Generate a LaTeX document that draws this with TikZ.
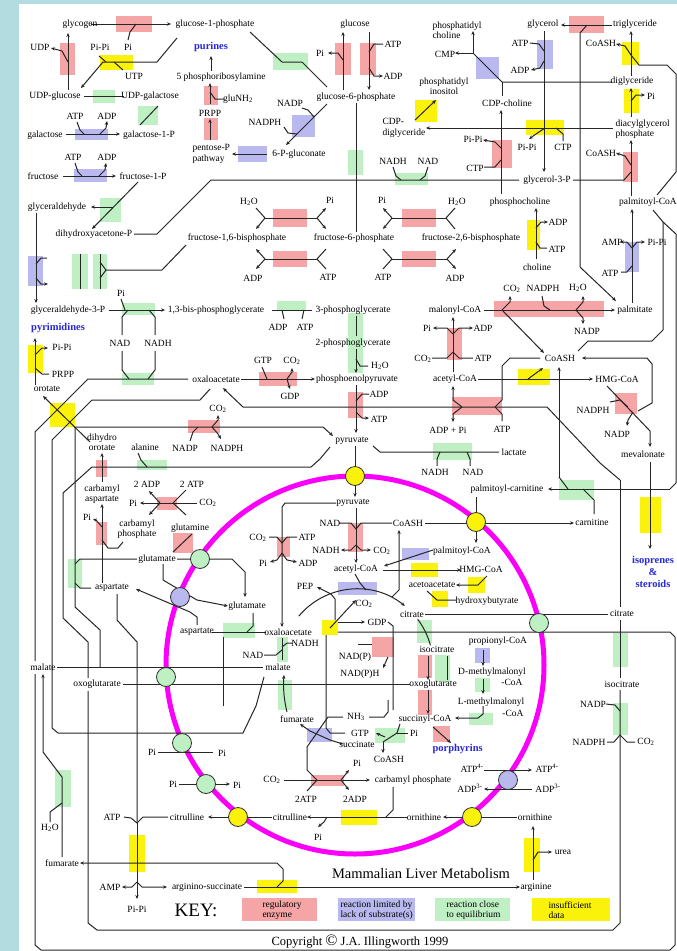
\documentclass[tikz,border=0pt]{standalone}
\usepackage{fontspec}
\setmainfont{Liberation Serif}
\usetikzlibrary{arrows.meta}
\definecolor{bgc}{RGB}{178,220,224}
\definecolor{rbx}{RGB}{245,165,165}
\definecolor{bbx}{RGB}{185,185,240}
\definecolor{gbx}{RGB}{190,240,195}
\definecolor{ybx}{RGB}{250,242,10}
\definecolor{mag}{RGB}{250,0,250}
\definecolor{btx}{RGB}{40,40,215}
\newcommand\mylbl[3]{\node[t] (#1) at (#2) {#3};}
\begin{document}
\begin{tikzpicture}[x=1pt,y=-1pt,
  t/.style={inner sep=0.3pt,font=\fontsize{9.5}{10.5}\selectfont},
  bt/.style={inner sep=0.3pt,font=\fontsize{10.5}{12}\selectfont\bfseries,text=btx,align=center},
  ln/.style={line width=1pt,black!85},
  ar/.style={ln,-{Stealth[length=4pt,width=3.4pt]}},
  rb/.style={fill=rbx},bb/.style={fill=bbx},gb/.style={fill=gbx},yb/.style={fill=ybx},
  circ/.style={circle,draw=black!80,line width=0.8pt,minimum size=19pt,inner sep=0pt}]
\useasboundingbox (0,0) rectangle (677,951);
\fill[bgc] (0,0) rectangle (677,951);
\fill[white] (19,4) rectangle (677,951);
% ---------- red boxes
\foreach \a/\b/\c/\d in {116/16/152/32,60/43/75/75,204/118/218/140,204/86/218/105,335/43/351/75,360/43/376/75,569/16/604/33,492/140/512/168,623/152/638/182,273/209/307/227,273/251/307/267,402/209/436/227,402/251/436/267,494/301/604/317,447/328/462/360,259/372/297/386,348/392/363/418,452/397/502/415,615/393/637/414,188/420/220/433,96/460/107/477,96/522/107/545,157/497/177/510,173/533/193/553,277/537/290/557,348/523/363/552,372/637/394/657,418/655/432/678,418/690/432/715,433/726/450/742,311/775/344/786}
  \fill[rb] (\a,\b) rectangle (\c,\d);
% ---------- blue boxes
\foreach \a/\b/\c/\d in {75/129/108/140,74/169/107/182,292/115/315/137,238/146/267/162,476/57/499/79,537/40/553/69,625/242/639/272,28/256/43/286,338/582/377/595,402/548/429/560,475/648/490/663,307/728/332/742}
  \fill[bb] (\a,\b) rectangle (\c,\d);
% ---------- green boxes
\foreach \a/\b/\c/\d in {93/90/115/103,138/106/158/125,100/198/121/222,273/53/308/70,348/150/363/175,395/173/428/185,72/254/88/289,93/254/107/289,122/303/155/315,277/301/306/311,348/313/363/373,122/373/154/385,137/460/167/470,559/480/594/500,68/559/82/588,223/623/255/638,277/637/288/662,278/680/292/710,417/620/432/643,435/655/450/682,475/678/490/692,469/713/493/725,375/728/405/743,613/633/628/667,613/703/628/735,55/770/71/807,433/443/472/460}
  \fill[gb] (\a,\b) rectangle (\c,\d);
% ---------- yellow boxes
\foreach \a/\b/\c/\d in {100/55/133/70,415/100/437/122,526/120/564/135,622/42/639/65,624/89/639/113,527/220/540/250,28/345/43/373,50/403/75/427,518/369/550/385,640/497/661/533,411/563/438/577,468/577/485/593,432/591/448/607,322/620/338/635,341/810/377/825,129/835/145/872,257/880/297/893,524/838/540/872}
  \fill[yb] (\a,\b) rectangle (\c,\d);
% ---------- key boxes
\fill[rb] (242,898) rectangle (317,921);
\fill[bb] (338,898) rectangle (415,921);
\fill[gb] (435,898) rectangle (510,921);
\fill[yb] (532,898) rectangle (610,921);
% ---------- mitochondrion
\draw[mag,line width=5pt] (355,665) circle (189);
% ================= LINES =================
% glycogen
\draw[ar] (91,24)--(171,24); \draw[ln] (128,40)--(130,32)--(136,24);
\draw[ar] (68,90)--(68,33); \draw[ar] (68,62)--(62,51)--(51,48);
\draw[ar] (177,38)--(157,62)--(103,62)--(81,88); \draw[ln] (106,62)--(99,56); \draw[ln] (114,62)--(123,70);
\draw[ln] (84,96)--(124,96); \draw[ln] (140,125)--(158,106);
\draw[ar] (66,134)--(120,134); \draw[ln] (77,122)--(80,130)--(84,134); \draw[ar] (100,134)--(106,128)--(107,121);
\draw[ar] (63,176)--(116,176); \draw[ln] (75,163)--(78,172)--(82,176); \draw[ar] (99,176)--(105,170)--(106,163);
\draw[ar] (138,182)--(92,229); \draw[ar] (113,207)--(91,207);
\draw[ar] (36,213)--(36,303); \draw[ln] (36,264)--(41,258)--(47,258); \draw[ar] (36,278)--(41,284)--(48,284);
\draw[ln] (80,254)--(80,289); \draw[ln] (100,254)--(100,289); \draw[ln] (100,262)--(106,270)--(100,278);
\draw[ln] (106,270)--(162,270)--(186,245);
\draw[ln] (134,234)--(157,234)--(211,180)--(519,180);
\draw[ln] (393,167)--(396,176)--(401,180); \draw[ln] (428,167)--(425,176)--(420,180);
\draw[ln] (356,103)--(356,232);
\draw[ln] (250,32)--(282,62)--(302,62)--(327,87);
\draw[ar] (343,90)--(343,32); \draw[ar] (343,60)--(338,53)--(328,53);
\draw[ar] (369,32)--(369,90); \draw[ln] (383,44)--(374,44)--(369,52); \draw[ar] (369,68)--(374,76)--(383,76);
\draw[ar] (327,104)--(286,145); \draw[ln] (302,108)--(308,110)--(314,117); \draw[ln] (284,127)--(288,133)--(297,134);
\draw[ar] (267,154)--(232,154);
\draw[ar] (210,140)--(210,119); \draw[ar] (210,104)--(210,83); \draw[ln] (210,92)--(215,99)--(224,99);
\draw[ar] (211,71)--(211,56);
% phospholipids
\draw[ar] (473,53)--(473,31); \draw[ar] (473,53)--(455,53); \draw[ln] (473,53)--(502,82)--(612,82); \draw[ln] (502,82)--(502,96);
\draw[ar] (501,194)--(501,110); \draw[ar] (501,148)--(495,142)--(483,140); \draw[ln] (501,160)--(495,167)--(484,167);
\draw[ar] (536,259)--(536,208); \draw[ar] (536,228)--(541,222)--(548,222); \draw[ln] (536,242)--(540,248)--(547,248);
\draw[ar] (612,25)--(561,25); \draw[ar] (587,25)--(580,33)--(580,267)--(616,301);
\draw[ar] (544,31)--(544,172); \draw[ln] (530,43)--(539,44)--(544,51); \draw[ar] (544,61)--(540,68)--(531,70);
\draw[ar] (613,128)--(426,128); \draw[ar] (545,128)--(536,134)--(529,139); \draw[ln] (556,128)--(563,134)--(563,141);
\draw[ar] (415,120)--(436,100);
\draw[ar] (631,76)--(631,31); \draw[ar] (631,55)--(625,46)--(616,44); \draw[ln] (631,55)--(639,65)--(667,65)--(676,74)--(676,172)--(657,195);
\draw[ar] (631,117)--(631,88); \draw[ar] (631,101)--(636,95)--(645,95);
\draw[ar] (631,196)--(631,140); \draw[ln] (573,180)--(624,180)--(631,172); \draw[ar] (631,165)--(625,156)--(616,153);
\draw[ar] (632,303)--(632,209); \draw[ar] (632,248)--(627,242)--(620,242); \draw[ar] (632,248)--(637,242)--(645,242); \draw[ln] (632,266)--(627,272)--(621,272);
\draw[ln] (653,210)--(663,222)--(663,330)--(652,341)--(588,341)--(578,351);
\draw[ln] (663,222)--(676,234)--(676,483)--(670,489);
% glycolysis
\draw[ln] (265,218)--(317,218); \draw[ln] (256,208)--(265,218); \draw[ar] (265,218)--(256,229); \draw[ar] (317,218)--(326,208); \draw[ar] (317,218)--(326,229);
\draw[ln] (265,259)--(317,259); \draw[ar] (265,259)--(256,249); \draw[ar] (265,259)--(256,269); \draw[ln] (317,259)--(326,249); \draw[ln] (317,259)--(326,269);
\draw[ln] (392,218)--(446,218); \draw[ar] (392,218)--(383,208); \draw[ar] (392,218)--(383,229); \draw[ln] (446,218)--(455,208); \draw[ln] (446,218)--(455,229);
\draw[ln] (392,259)--(447,259); \draw[ln] (392,259)--(383,249); \draw[ln] (392,259)--(383,269); \draw[ar] (447,259)--(456,249); \draw[ar] (447,259)--(456,269);
\draw[ar] (109,310)--(165,310); \draw[ln] (121,299)--(125,310);
\draw[ln] (128,310)--(122,317)--(122,335); \draw[ln] (149,310)--(155,317)--(155,335);
\draw[ln] (122,351)--(122,370)--(129,379); \draw[ln] (155,351)--(155,370)--(148,379);
\draw[ln] (272,310)--(312,310); \draw[ln] (282,310)--(284,319); \draw[ln] (304,310)--(302,319);
\draw[ln] (356,316)--(356,336); \draw[ar] (356,349)--(356,373); \draw[ln] (356,359)--(360,366)--(368,366);
\draw[ar] (241,379)--(315,379); \draw[ln] (262,367)--(267,379); \draw[ar] (287,379)--(292,372)--(292,368); \draw[ar] (287,379)--(290,389);
\draw[ar] (356,385)--(356,433); \draw[ln] (356,401)--(362,394)--(369,394); \draw[ar] (356,412)--(362,418)--(369,418);
% citrate lyase, ACC, FAS
\draw[ar] (620,480)--(600,463)--(547,407)--(243,407)--(223,388);
\draw[ar] (462,407)--(453,400)--(453,386); \draw[ar] (462,407)--(453,414)--(453,422);
\draw[ln] (495,407)--(502,400)--(502,366)--(510,358)--(540,358); \draw[ln] (495,407)--(502,414)--(502,421);
\draw[ar] (453,372)--(453,317); \draw[ar] (453,334)--(447,328)--(433,328); \draw[ar] (453,334)--(459,328)--(473,328);
\draw[ln] (432,358)--(447,358)--(453,352); \draw[ln] (453,352)--(459,358)--(473,358);
\draw[ar] (484,310)--(615,310); \draw[ar] (502,310)--(510,302)--(510,296); \draw[ln] (542,296)--(544,306)--(550,310);
\draw[ar] (576,310)--(583,302)--(583,296); \draw[ar] (576,310)--(583,318)--(583,324);
\draw[ar] (502,310)--(544,353);
\draw[ar] (478,379)--(593,379); \draw[ar] (528,379)--(543,368);
\draw[ar] (607,386)--(650,431)--(650,447); \draw[ln] (610,402)--(620,400)--(628,407); \draw[ar] (633,412)--(628,420)--(627,426);
\draw[ar] (638,411)--(652,403)--(652,364)--(647,358)--(582,358);
\draw[ar] (650,462)--(650,549);
% malic enzyme, MDH, shuttles (left)
\draw[ar] (75,607)--(75,427)--(323,427)--(333,436);
\draw[ar] (212,427)--(218,420)--(218,415); \draw[ln] (190,441)--(193,432)--(198,427); \draw[ar] (212,427)--(218,434)--(221,439);
\draw[ln] (373,446)--(380,452)--(499,452); \draw[ln] (437,466)--(437,459)--(440,452); \draw[ln] (470,466)--(470,459)--(467,452);
\draw[ln] (330,447)--(320,459)--(311,467)--(92,467)--(63,493)--(63,618)--(88,642)--(88,678);
\draw[ln] (138,453)--(141,460)--(147,467);
\draw[ln] (188,379)--(88,379)--(35,432)--(35,661);
\draw[ln] (210,389)--(200,400)--(92,400)--(52,440)--(52,728)--(58,733)--(243,733)--(256,706)--(264,677);
\draw[ar] (35,385)--(35,338); \draw[ar] (35,355)--(42,348)--(48,348); \draw[ln] (35,368)--(42,374)--(49,374);
\draw[ar] (90,442)--(43,396);
\draw[ar] (102,482)--(102,453);
\draw[ar] (102,583)--(102,504); \draw[ar] (102,527)--(96,520)--(93,519); \draw[ln] (102,540)--(108,548)--(118,548)--(123,542);
\draw[ar] (197,503)--(140,503); \draw[ar] (160,503)--(149,491); \draw[ar] (160,503)--(149,515); \draw[ln] (186,490)--(173,503)--(186,515);
\draw[ln] (173,552)--(192,534);
\draw[ar] (177,559)--(232,559)--(245,572)--(245,597);
\draw[ln] (137,559)--(80,559)--(75,564); \draw[ln] (75,583)--(80,588)--(91,588);
\draw[ln] (75,607)--(100,630)--(100,667);
\draw[ar] (197,625)--(197,617)--(190,612)--(136,589);
\draw[ar] (163,564)--(163,580)--(197,600)--(228,606);
\draw[ln] (212,632)--(266,632); \draw[ln] (253,613)--(253,626)--(247,632); \draw[ln] (223,637)--(223,706);
\draw[ln] (117,594)--(117,620)--(137,642)--(137,823); \draw[ar] (137,823)--(137,899);
\draw[ln] (124,817)--(131,818)--(137,823); \draw[ln] (168,817)--(143,817)--(137,823);
\draw[ar] (137,882)--(132,887)--(122,887); \draw[ar] (137,882)--(142,887)--(167,887);
\draw[ar] (277,887)--(283,881)--(283,869)--(277,863)--(80,863);
\draw[ar] (244,887)--(520,887);
\draw[ar] (62,857)--(62,777)--(43,752)--(43,674); \draw[ln] (62,803)--(50,812)--(50,822);
\draw[ln] (57,667)--(263,667); \draw[ln] (123,684)--(410,684);
\draw[ln] (620,480)--(620,607); \draw[ln] (620,620)--(620,678); \draw[ln] (620,690)--(620,923)--(613,930)--(97,930)--(88,923)--(88,691);
\draw[ln] (606,704)--(615,705)--(620,711); \draw[ln] (607,742)--(614,742)--(620,735)--(627,742)--(635,742);
\draw[ln] (338,632)--(670,632)--(675,637)--(675,945)--(670,950)--(41,950)--(35,945)--(35,674);
% mitochondrion
\draw[ar] (355,446)--(355,497);
\draw[ar] (336,503)--(285,503)--(282,507)--(282,627); \draw[ln] (269,537)--(277,537)--(282,543)--(287,537)--(297,537);
\draw[ar] (282,553)--(277,560)--(270,562); \draw[ar] (282,553)--(287,560)--(297,562);
\draw[ar] (356,508)--(356,563); \draw[ln] (339,523)--(351,523)--(356,529)--(361,523)--(392,523);
\draw[ar] (356,545)--(351,550)--(341,550); \draw[ar] (356,545)--(361,550)--(371,550);
\draw[ar] (425,523)--(574,523);
\draw[ar] (476,497)--(476,543);
\draw[ar] (670,489)--(548,489); \draw[ar] (559,477)--(559,367); \draw[ln] (559,477)--(568,489); \draw[ln] (583,489)--(594,500)--(594,514);
\draw[ar] (433,550)--(384,566);
\draw[ar] (383,570)--(461,570);
\draw[ar] (487,576)--(478,585)--(456,585);
\draw[ln] (427,591)--(437,600)--(456,600);
% TCA cycle arcs (centre 357,665 ; r 76)
\draw[ar] (357,665) ++(-140:76) arc[start angle=-140,end angle=-51,radius=76];
\draw[ln] (355,574)--(360,583)--(366,590); \draw[ar] (392,597)--(399,590)--(399,530);
\draw[ln] (425,614)--(608,614);
\draw[ln] (357,665) ++(-37:76) arc[start angle=-37,end angle=-15,radius=76];
\draw[ar] (428,656)--(428,680); \draw[ln] (447,656)--(447,680);
\draw[ar] (428,690)--(428,714);
\draw[ln] (358,644)--(372,644); \draw[ar] (388,657)--(383,668);
\draw[ar] (483,650)--(483,666); \draw[ar] (483,679)--(483,694);
\draw[ar] (483,706)--(483,714)--(478,718)--(455,718);
\draw[ar] (433,727)--(451,743);
\draw[ar] (335,620)--(335,599)--(331,594)--(317,587);
\draw[ar] (330,628)--(356,600); \draw[ar] (338,622)--(365,622);
\draw[ln] (388,622)--(393,626)--(393,710);
\draw[ln] (326,635)--(326,728)--(330,733)--(345,733);
\draw[ln] (282,660)--(282,638); \draw[ln] (282,647)--(287,643)--(293,643); \draw[ln] (264,655)--(276,655)--(282,650);
\draw[ar] (287,712) .. controls (284,700) and (283,688) .. (284,675);
\draw[ar] (343,744)--(330,740)--(310,731)--(300,724);
\draw[ln] (400,724)--(397,733)--(383,742); \draw[ar] (385,737)--(376,733); \draw[ln] (397,733)--(408,733); \draw[ar] (383,742)--(383,753);
\draw[ln] (369,717)--(384,717)--(388,712)--(388,700);
\draw[ln] (343,717)--(328,717)--(307,747)--(307,770)--(317,780);
\draw[ar] (284,780)--(370,780); \draw[ln] (307,791)--(317,780); \draw[ar] (341,780)--(349,790); \draw[ar] (341,780)--(349,770);
\draw[ar] (407,817)--(307,817); \draw[ln] (393,787)--(393,810)--(386,817); \draw[ar] (327,817)--(324,822)--(318,827);
\draw[ar] (272,817)--(208,817);
\draw[ar] (517,817)--(443,817);
\draw[ar] (533,880)--(533,826); \draw[ar] (533,860)--(538,852)--(552,852);
\draw[ar] (484,770)--(532,770); \draw[ar] (532,789)--(484,789);
\draw[ln] (158,752)--(213,752); \draw[ar] (179,784)--(230,784);
% ---------- transport circles
\node[circ,fill=ybx] (c1) at (355,476) {};
\node[circ,fill=ybx] (c2) at (476,522) {};
\node[circ,fill=gbx] (c3) at (200,559) {};
\node[circ,fill=bbx] (c4) at (180,597) {};
\node[circ,fill=gbx] (c5) at (539,623) {};
\node[circ,fill=gbx] (c6) at (166,677) {};
\node[circ,fill=gbx] (c7) at (182,743) {};
\node[circ,fill=gbx] (c8) at (206,784) {};
\node[circ,fill=ybx] (c9) at (238,817) {};
\node[circ,fill=bbx] (c10) at (508,780) {};
\node[circ,fill=ybx] (c11) at (472,817) {};
% ================= LABELS =================
\mylbl{a1}{80,24}{glycogen}
\mylbl{a2}{215,24}{glucose-1-phosphate}
\mylbl{a3}{40,47}{UDP}
\mylbl{a4}{100,47}{Pi-Pi}
\mylbl{a5}{128,47}{Pi}
\node[bt] (a6) at (211,47) {purines};
\mylbl{a7}{134,76}{UTP}
\mylbl{a8}{221,77}{5 phosphoribosylamine}
\mylbl{a9}{55,96}{UDP-glucose}
\mylbl{a10}{150,96}{UDP-galactose}
\mylbl{a11}{238,99}{gluNH\textsubscript{2}}
\mylbl{a12}{210,113}{PRPP}
\mylbl{a13}{75,116}{ATP}
\mylbl{a14}{107,116}{ADP}
\mylbl{a15}{45,135}{galactose}
\mylbl{a16}{149,135}{galactose-1-P}
\node[t,align=left,anchor=west] (a17) at (192,154) {pentose-P\\pathway};
\mylbl{a18}{299,154}{6-P-gluconate}
\mylbl{a19}{290,103}{NADP}
\mylbl{a20}{265,122}{NADPH}
\mylbl{a21}{73,157}{ATP}
\mylbl{a22}{107,157}{ADP}
\mylbl{a23}{43,176}{fructose}
\mylbl{a24}{143,176}{fructose-1-P}
\mylbl{a25}{57,207}{glyceraldehyde}
\mylbl{a26}{94,234}{dihydroxyacetone-P}
\mylbl{a27}{237,238}{fructose-1,6-bisphosphate}
\mylbl{a28}{354,238}{fructose-6-phosphate}
\mylbl{a29}{471,238}{fructose-2,6-bisphosphate}
\mylbl{a30}{249,202}{H\textsubscript{2}O}
\mylbl{a31}{330,200}{Pi}
\mylbl{a32}{382,200}{Pi}
\mylbl{a33}{457,202}{H\textsubscript{2}O}
\mylbl{a34}{253,278}{ADP}
\mylbl{a35}{328,277}{ATP}
\mylbl{a36}{383,277}{ATP}
\mylbl{a37}{455,278}{ADP}
\mylbl{a38}{355,24}{glucose}
\mylbl{a39}{320,53}{Pi}
\mylbl{a40}{393,44}{ATP}
\mylbl{a41}{393,76}{ADP}
\mylbl{a42}{356,97}{glucose-6-phosphate}
\mylbl{a43}{393,161}{NADH}
\mylbl{a44}{428,161}{NAD}
\node[t,align=left,anchor=west] (a45) at (432,30) {phosphatidyl\\choline};
\mylbl{a46}{445,54}{CMP}
\node[t,align=center] (a47) at (444,86) {phosphatidyl\\inositol};
\node[t,align=left,anchor=west] (a48) at (382,128) {CDP-\\diglyceride};
\mylbl{a49}{543,24}{glycerol}
\mylbl{a50}{635,24}{triglyceride}
\mylbl{a51}{520,43}{ATP}
\mylbl{a52}{520,70}{ADP}
\mylbl{a53}{601,43}{CoASH}
\mylbl{a54}{632,81}{diglyceride}
\mylbl{a55}{651,96}{Pi}
\mylbl{a56}{507,103}{CDP-choline}
\node[t,align=left,anchor=west] (a57) at (615,129) {diacylglycerol\\phosphate};
\mylbl{a58}{473,139}{Pi-Pi}
\mylbl{a59}{527,147}{Pi-Pi}
\mylbl{a60}{563,147}{CTP}
\mylbl{a61}{601,153}{CoASH}
\mylbl{a62}{475,168}{CTP}
\mylbl{a63}{547,180}{glycerol-3-P}
\mylbl{a64}{520,202}{phosphocholine}
\mylbl{a65}{648,202}{palmitoyl-CoA}
\mylbl{a66}{558,222}{ADP}
\mylbl{a67}{557,249}{ATP}
\mylbl{a68}{537,267}{choline}
\mylbl{a69}{612,242}{AMP}
\mylbl{a70}{657,242}{Pi-Pi}
\mylbl{a71}{610,273}{ATP}
\mylbl{a72}{512,289}{CO\textsubscript{2}}
\mylbl{a73}{543,288}{NADPH}
\mylbl{a74}{578,288}{H\textsubscript{2}O}
\mylbl{a75}{455,310}{malonyl-CoA}
\mylbl{a76}{635,310}{palmitate}
\mylbl{a77}{587,331}{NADP}
\mylbl{a78}{427,328}{Pi}
\mylbl{a79}{483,328}{ADP}
\mylbl{a80}{423,359}{CO\textsubscript{2}}
\mylbl{a81}{483,358}{ATP}
\mylbl{a82}{560,358}{CoASH}
\mylbl{a83}{455,379}{acetyl-CoA}
\mylbl{a84}{617,379}{HMG-CoA}
\mylbl{a85}{448,430}{ADP + Pi}
\mylbl{a86}{502,429}{ATP}
\mylbl{a87}{593,410}{NADPH}
\mylbl{a88}{617,434}{NADP}
\mylbl{a89}{643,454}{mevalonate}
\mylbl{a90}{514,452}{lactate}
\mylbl{a91}{435,472}{NADH}
\mylbl{a92}{473,472}{NAD}
\mylbl{a93}{68,310}{glyceraldehyde-3-P}
\mylbl{a94}{216,310}{1,3-bis-phosphoglycerate}
\mylbl{a95}{353,310}{3-phosphoglycerate}
\mylbl{a96}{278,327}{ADP}
\mylbl{a97}{305,327}{ATP}
\mylbl{a98}{121,293}{Pi}
\mylbl{a99}{120,343}{NAD}
\mylbl{a100}{158,343}{NADH}
\node[bt] (a101) at (58,328) {pyrimidines};
\mylbl{a102}{62,347}{Pi-Pi}
\mylbl{a103}{63,374}{PRPP}
\mylbl{a104}{47,389}{orotate}
\mylbl{a105}{353,343}{2-phosphoglycerate}
\mylbl{a106}{263,360}{GTP}
\mylbl{a107}{292,361}{CO\textsubscript{2}}
\mylbl{a108}{380,366}{H\textsubscript{2}O}
\mylbl{a109}{216,379}{oxaloacetate}
\mylbl{a110}{357,379}{phosphoenolpyruvate}
\mylbl{a111}{290,396}{GDP}
\mylbl{a112}{379,394}{ADP}
\mylbl{a113}{379,419}{ATP}
\mylbl{a114}{218,409}{CO\textsubscript{2}}
\mylbl{a115}{185,448}{NADP}
\mylbl{a116}{227,448}{NADPH}
\mylbl{a117}{352,441}{pyruvate}
\node[t,align=center] (a118) at (102,442) {dihydro\\orotate};
\mylbl{a119}{145,447}{alanine}
\node[t,align=center] (a120) at (102,494) {carbamyl\\aspartate};
\mylbl{a121}{147,484}{2 ADP}
\mylbl{a122}{192,484}{2 ATP}
\mylbl{a123}{133,503}{Pi}
\mylbl{a124}{208,503}{CO\textsubscript{2}}
\mylbl{a125}{87,517}{Pi}
\node[t,align=center] (a126) at (137,529) {carbamyl\\phosphate};
\mylbl{a127}{190,528}{glutamine}
\mylbl{a128}{157,559}{glutamate}
\mylbl{a129}{112,588}{aspartate}
\mylbl{a130}{247,606}{glutamate}
\mylbl{a131}{197,632}{aspartate}
\mylbl{a132}{43,667}{malate}
\mylbl{a133}{97,684}{oxoglutarate}
\mylbl{a134}{353,503}{pyruvate}
\mylbl{a135}{330,523}{NAD}
\mylbl{a136}{408,523}{CoASH}
\mylbl{a137}{258,538}{CO\textsubscript{2}}
\mylbl{a138}{307,537}{ATP}
\mylbl{a139}{326,550}{NADH}
\mylbl{a140}{382,551}{CO\textsubscript{2}}
\mylbl{a141}{263,563}{Pi}
\mylbl{a142}{308,563}{ADP}
\mylbl{a143}{462,551}{palmitoyl-CoA}
\mylbl{a144}{356,569}{acetyl-CoA}
\mylbl{a145}{481,569}{HMG-CoA}
\mylbl{a146}{305,586}{PEP}
\mylbl{a147}{432,585}{acetoacetate}
\mylbl{a148}{487,601}{hydroxybutyrate}
\mylbl{a149}{364,604}{CO\textsubscript{2}}
\mylbl{a150}{412,614}{citrate}
\mylbl{a151}{377,622}{GDP}
\mylbl{a152}{288,632}{oxaloacetate}
\mylbl{a153}{305,643}{NADH}
\mylbl{a154}{253,655}{NAD}
\mylbl{a155}{278,667}{malate}
\mylbl{a156}{355,657}{NAD(P)}
\mylbl{a157}{360,674}{NAD(P)H}
\mylbl{a158}{437,649}{isocitrate}
\mylbl{a159}{433,684}{oxoglutarate}
\mylbl{a160}{498,641}{propionyl-CoA}
\mylbl{a161}{492,672}{D-methylmalonyl}
\mylbl{a162}{512,682}{-CoA}
\mylbl{a163}{491,702}{L-methylmalonyl}
\mylbl{a164}{513,713}{-CoA}
\mylbl{a165}{622,613}{citrate}
\mylbl{a166}{622,684}{isocitrate}
\mylbl{a167}{593,704}{NADP}
\mylbl{a168}{589,742}{NADPH}
\mylbl{a169}{646,742}{CO\textsubscript{2}}
\mylbl{a170}{507,489}{palmitoyl-carnitine}
\mylbl{a171}{592,522}{carnitine}
\node[bt] (a172) at (653,572) {isoprenes\\\&\\steroids};
\mylbl{a173}{297,719}{fumarate}
\mylbl{a174}{356,717}{NH\textsubscript{3}}
\mylbl{a175}{360,733}{GTP}
\mylbl{a176}{425,719}{succinyl-CoA}
\mylbl{a177}{414,733}{Pi}
\mylbl{a178}{357,744}{succinate}
\mylbl{a179}{389,759}{CoASH}
\node[bt,anchor=west] (a180) at (432,749) {porphyrins};
\mylbl{a181}{357,763}{Pi}
\mylbl{a182}{272,780}{CO\textsubscript{2}}
\mylbl{a183}{413,780}{carbamyl phosphate}
\mylbl{a184}{306,799}{2ATP}
\mylbl{a185}{355,799}{2ADP}
\mylbl{a186}{472,768}{ATP\textsuperscript{4-}}
\mylbl{a187}{547,768}{ATP\textsuperscript{4-}}
\mylbl{a188}{470,788}{ADP\textsuperscript{3-}}
\mylbl{a189}{548,788}{ADP\textsuperscript{3-}}
\mylbl{a190}{152,752}{Pi}
\mylbl{a191}{222,753}{Pi}
\mylbl{a192}{173,784}{Pi}
\mylbl{a193}{237,785}{Pi}
\mylbl{a194}{112,817}{ATP}
\mylbl{a195}{187,817}{citrulline}
\mylbl{a196}{290,817}{citrulline}
\mylbl{a197}{424,817}{ornithine}
\mylbl{a198}{535,817}{ornithine}
\mylbl{a199}{318,837}{Pi}
\mylbl{a200}{50,828}{H\textsubscript{2}O}
\mylbl{a201}{62,863}{fumarate}
\mylbl{a202}{563,852}{urea}
\node[inner sep=0pt,font=\fontsize{14.5}{16}\selectfont] (a203) at (421,874) {Mammalian Liver Metabolism};
\mylbl{a204}{110,887}{AMP}
\mylbl{a205}{207,887}{arginino-succinate}
\mylbl{a206}{536,887}{arginine}
\mylbl{a207}{137,909}{Pi-Pi}
\node[inner sep=0pt,font=\fontsize{19}{20}\selectfont] (a208) at (196,910) {KEY:};
\node[t,align=left,anchor=west] (a209) at (262,910) {regulatory\\enzyme};
\node[t,align=left,anchor=west] (a210) at (340,910) {reaction limited by\\lack of substrate(s)};
\node[t,align=left,anchor=west] (a211) at (446,910) {reaction close\\to equilibrium};
\node[t,align=left,anchor=west] (a212) at (548,910) {insufficient\\data};
\node[inner sep=0pt,font=\fontsize{12.5}{14}\selectfont] (a213) at (360,942) {Copyright {\fontsize{16}{16}\selectfont ©} J.A. Illingworth 1999};
\end{tikzpicture}
\end{document}
